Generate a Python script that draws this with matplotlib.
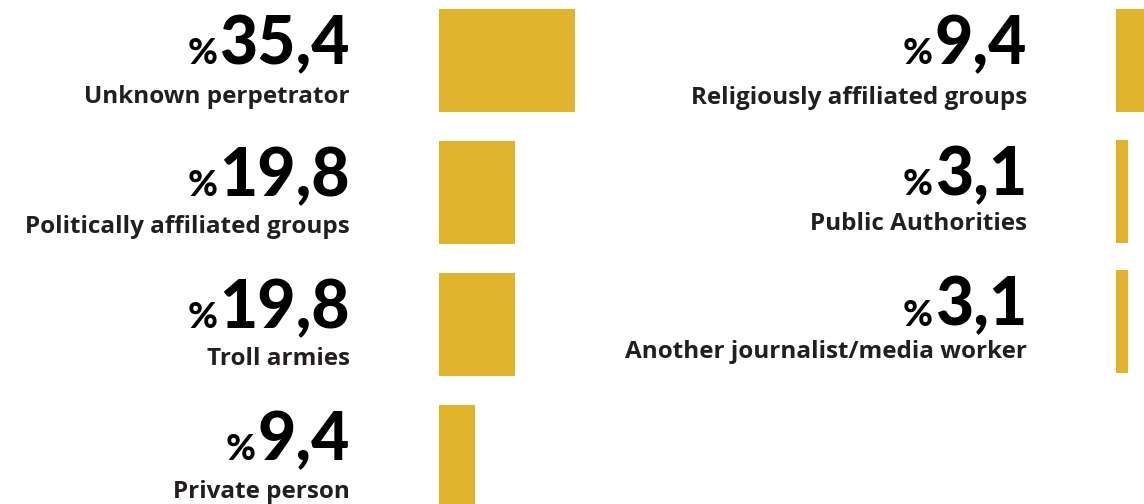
import matplotlib
matplotlib.use('Agg')
import matplotlib.pyplot as plt

# left column
left_labels = ['Unknown perpetrator', 'Politically affiliated groups', 'Troll armies', 'Private person']
left_values = [35.4, 19.8, 19.8, 9.4]
left_texts = ['35,4', '19,8', '19,8', '9,4']

# right column
right_labels = ['Religiously affiliated groups', 'Public Authorities', 'Another journalist/media worker']
right_values = [9.4, 3.1, 3.1]
right_texts = ['9,4', '3,1', '3,1']

BAR = '#E2B32D'
NUM_FONT = 'Lato'
LAB_FONT = 'Open Sans'
W, H = 1144, 504


def column(fig, left_px, width_px, pitch, first_c, labels, values, texts, lab_dy):
    scale = 3.85  # px per percent
    ax = fig.add_axes([left_px / W, 0, width_px / W, 1])
    ax.set_xlim(0, width_px / scale)
    ax.set_ylim((H - first_c) / pitch, -first_c / pitch)
    ax.axis('off')
    rows = list(range(len(values)))
    ax.barh(rows, values, height=103 / pitch, color=BAR, left=0)
    for i, (lab, txt) in enumerate(zip(labels, texts)):
        num = ax.annotate(txt, xy=(0, i), xycoords='data', xytext=(-89, -4),
                          textcoords='offset pixels', ha='right', va='baseline',
                          fontsize=47.5, fontweight='black', family=NUM_FONT,
                          color='black', annotation_clip=False)
        ax.annotate('%', xy=(0, i), xycoords=(num, 'data'), xytext=(-2, -4),
                    textcoords='offset pixels', ha='right', va='baseline',
                    fontsize=26, fontweight='black', family=NUM_FONT,
                    color='black', annotation_clip=False)
        ax.annotate(lab, xy=(0, i), xycoords='data', xytext=(-89, -lab_dy[i]),
                    textcoords='offset pixels', ha='right', va='baseline',
                    fontsize=17.5, fontweight='bold', family=LAB_FONT,
                    color='#231F20', annotation_clip=False)
    return ax


def main():
    fig = plt.figure(figsize=(W / 100, H / 100), dpi=100)
    fig.patch.set_facecolor('white')
    column(fig, 439, W - 439, 132, 60.5, left_labels, left_values, left_texts,
           [43, 41, 41, 42])
    column(fig, 1116, W - 1116, 130.5, 60.5, right_labels, right_values, right_texts,
           [43, 39, 37])
    fig.savefig('out.png', dpi=100)


if __name__ == '__main__':
    main()
